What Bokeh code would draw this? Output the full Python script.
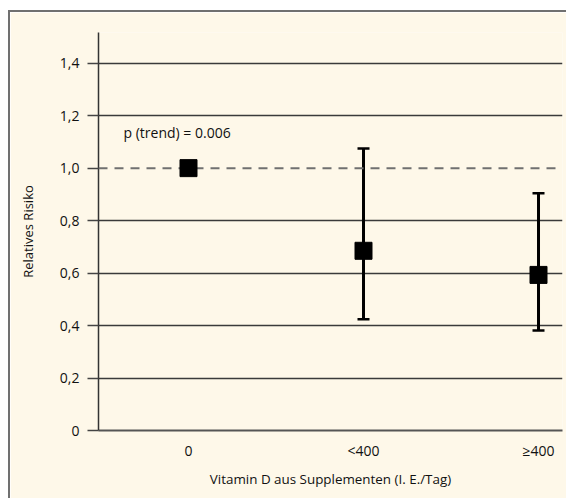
from bokeh.plotting import figure
from bokeh.models import Range1d, FixedTicker, Whisker, ColumnDataSource, Span, Label, TeeHead
from bokeh.embed import file_html
from bokeh.resources import INLINE

# ---- data ----
categories = ["0", "<400", "≥400"]
cat_pos = [1, 2, 3]
relative_risk = [1.0, 0.685, 0.593]
ci_pos = [2, 3]
ci_lower = [0.424, 0.381]
ci_upper = [1.075, 0.904]
y_ticks = [0, 0.2, 0.4, 0.6, 0.8, 1.0, 1.2, 1.4]
y_tick_labels = ["0", "0,2", "0,4", "0,6", "0,8", "1,0", "1,2", "1,4"]
annotation_text = "p (trend) = 0.006"
x_label = "Vitamin D aus Supplementen (I. E./Tag)"
y_label = "Relatives Risiko"

BG = "#fef8e9"
FONT = "Open Sans"

p = figure(width=558, height=488, output_backend="svg", toolbar_location=None,
           x_range=Range1d(0.4857, 3.1371), y_range=Range1d(0, 1.517),
           min_border_left=88, min_border_right=6, min_border_top=20, min_border_bottom=70,
           background_fill_color=BG, border_fill_color=BG)
p.styles = {"border-left": "2px solid #707070", "border-top": "2px solid #707070",
            "margin-top": "10px", "margin-left": "8px"}
p.outline_line_color = None

# axes
p.xaxis.ticker = FixedTicker(ticks=cat_pos)
p.xaxis.major_label_overrides = {k: v for k, v in zip(cat_pos, categories)}
p.yaxis.ticker = FixedTicker(ticks=y_ticks)
p.yaxis.major_label_overrides = {k: v for k, v in zip(y_ticks, y_tick_labels)}

for ax in (p.xaxis, p.yaxis):
    ax.major_label_text_font = FONT
    ax.major_label_text_font_size = "14px"
    ax.major_label_text_color = "#111111"
    ax.axis_label_text_font = FONT
    ax.axis_label_text_font_style = "normal"
    ax.axis_label_text_color = "#111111"
    ax.minor_tick_line_color = None

p.xaxis.axis_label = x_label
p.xaxis.axis_label_text_font_size = "13.4px"
p.xaxis.major_tick_line_color = None
p.xaxis.major_tick_out = 0
p.xaxis.major_tick_in = 0
p.xaxis.major_label_standoff = 10
p.xaxis.axis_label_standoff = 7
p.xaxis.axis_line_color = "#555555"
p.xaxis.axis_line_width = 2

p.yaxis.axis_label = y_label
p.yaxis.axis_label_text_font_size = "13px"
p.yaxis.major_tick_out = 11
p.yaxis.major_tick_in = 0
p.yaxis.major_tick_line_color = "#444444"
p.yaxis.major_tick_line_width = 1.5
p.yaxis.major_label_standoff = 8
p.yaxis.axis_label_standoff = 20
p.yaxis.axis_line_color = "#333333"
p.yaxis.axis_line_width = 1.5

# grid
p.xgrid.grid_line_color = None
p.ygrid.ticker = FixedTicker(ticks=[t for t in y_ticks if t not in (0, 1.0)])
p.ygrid.grid_line_color = "#3a3a3a"
p.ygrid.grid_line_width = 1.3

ref = Span(location=1.0, dimension="width", line_color="#707070",
           line_width=2, line_dash="9 7")
p.add_layout(ref)

# error bars
err_src = ColumnDataSource(dict(x=ci_pos, lower=ci_lower, upper=ci_upper))
w = Whisker(source=err_src, base="x", lower="lower", upper="upper", dimension="height",
            line_color="black", line_width=3,
            upper_head=TeeHead(size=12, line_width=2.5, line_color="black"),
            lower_head=TeeHead(size=12, line_width=2.5, line_color="black"))
p.add_layout(w)

pt_src = ColumnDataSource(dict(x=cat_pos, y=relative_risk))
p.scatter("x", "y", source=pt_src, marker="square", size=17,
          fill_color="black", line_color="black", level="overlay")

lab = Label(x=0.6286, y=1.135, text=annotation_text, text_font=FONT,
            text_font_size="14px", text_color="#111111", text_baseline="middle",
            text_align="left")
p.add_layout(lab)

open("out.html", "w").write(file_html(p, INLINE))
